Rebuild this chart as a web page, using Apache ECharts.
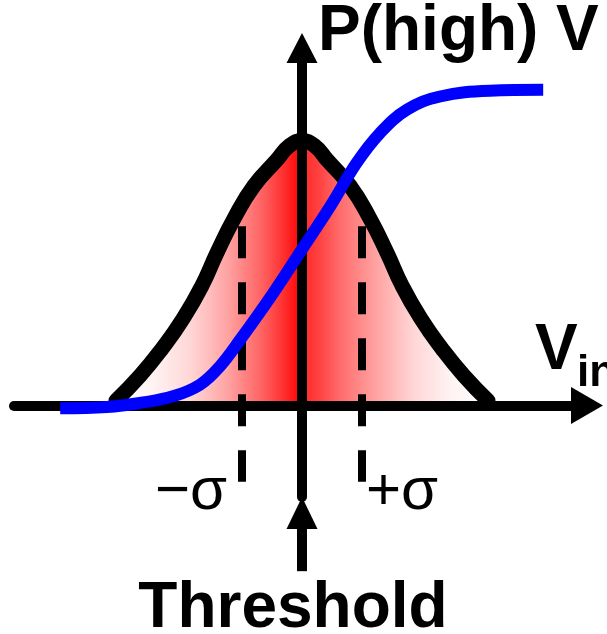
<!DOCTYPE html>
<html>
<head>
<meta charset="utf-8">
<script src="https://cdn.jsdelivr.net/npm/echarts@6/dist/echarts.min.js"></script>
<style>
  html, body { margin: 0; padding: 0; background: #fff; }
  #chart { width: 607px; height: 634px; }
</style>
</head>
<body>
<div id="chart"></div>
<script>
// 高斯分布曲线 (x 以 σ 为单位, y 相对峰值)
const gaussX = [-3.1, -2.7, -2.333, -1.983, -1.667, -1.417, -1.133, -0.8, -0.417, -0.21, 0, 0.21, 0.417, 0.8, 1.133, 1.417, 1.667, 1.983, 2.333, 2.7, 3.1]
const gaussY = [0.019, 0.113, 0.215, 0.328, 0.453, 0.577, 0.706, 0.83, 0.928, 0.981, 1.0, 0.981, 0.928, 0.83, 0.706, 0.577, 0.453, 0.328, 0.215, 0.113, 0.019]

// P(high) 曲线
const sigX = [-4.03, -3.25, -2.7, -2.15, -1.7, -1.37, -1.03, -0.48, 0, 0.47, 0.91, 1.3, 1.75, 2.3, 3.13, 4.02]
const sigY = [-0.01, -0.005, 0.01, 0.035, 0.079, 0.148, 0.249, 0.425, 0.59, 0.752, 0.916, 1.029, 1.117, 1.167, 1.189, 1.192]

// ±σ 虚线
const sigmaX = [-1, 1]
const sigmaTop = 0.677
const sigmaBottom = -0.287

// Threshold 箭头 (x = 0)
const arrowFrom = -0.625
const arrowTip = -0.405

// 文字
const yLabel = 'P(high)'
const yLabel2 = 'V'
const xLabel = 'V'
const xLabelSub = 'in'
const minusSigma = '\u2212\u03c3'
const plusSigma = '+\u03c3'
const thresholdLabel = 'Threshold'

const FONT = '"Liberation Sans", Arial, Helvetica, sans-serif'

// 以基线位置放置文字
function textAt(text, x, baseline, size, weight, align) {
  return {
    type: 'text',
    z: 10,
    silent: true,
    style: {
      text: text,
      x: x,
      y: baseline - size * 0.33,
      font: weight + ' ' + size + 'px ' + FONT,
      fill: '#000',
      textAlign: align,
      textVerticalAlign: 'middle'
    }
  }
}

// 红色渐变：中间最红，两侧渐白
const redFill = new echarts.graphic.LinearGradient(0, 0, 1, 0, [
  { offset: 0, color: '#ffffff' },
  { offset: 0.1, color: '#fff3f3' },
  { offset: 0.2, color: '#ffd6d6' },
  { offset: 0.3, color: '#ffa3a3' },
  { offset: 0.4, color: '#ff5c5c' },
  { offset: 0.45, color: '#ff3030' },
  { offset: 0.5, color: '#ff0000' },
  { offset: 0.501, color: '#ff2828' },
  { offset: 0.55, color: '#ff4444' },
  { offset: 0.6, color: '#ff6a6a' },
  { offset: 0.7, color: '#ffa3a3' },
  { offset: 0.8, color: '#ffd6d6' },
  { offset: 0.9, color: '#fff3f3' },
  { offset: 1, color: '#ffffff' }
])

const chart = echarts.init(document.getElementById('chart'))

const option = {
  animation: false,
  backgroundColor: '#fff',
  grid: { left: 14, right: 20, top: 48, bottom: 137, outerBoundsMode: 'none', containLabel: false },
  xAxis: {
    type: 'value',
    min: -4.8,
    max: 4.75,
    z: 3,
    axisLine: {
      onZero: true,
      symbol: ['none', 'triangle'],
      symbolSize: [37, 32],
      lineStyle: { color: '#000', width: 10 }
    },
    axisTick: { show: false },
    axisLabel: { show: false },
    splitLine: { show: false }
  },
  yAxis: {
    type: 'value',
    min: -0.345,
    max: 1.35,
    z: 3,
    axisLine: {
      onZero: true,
      symbol: ['none', 'triangle'],
      symbolSize: [31, 30],
      lineStyle: { color: '#000', width: 10 }
    },
    axisTick: { show: false },
    axisLabel: { show: false },
    splitLine: { show: false }
  },
  series: [
    {
      name: 'gauss',
      type: 'line',
      data: gaussX.map((x, i) => [x, gaussY[i]]),
      smooth: 0.5,
      symbol: 'none',
      silent: true,
      z: 2,
      lineStyle: { color: '#000', width: 15, join: 'round', cap: 'round' },
      areaStyle: { opacity: 1, color: redFill }
    },
    ...sigmaX.map(x => ({
      type: 'line',
      data: [[x, sigmaTop], [x, sigmaBottom]],
      symbol: 'none',
      silent: true,
      z: 4,
      lineStyle: { color: '#000', width: 8, type: [32, 24], cap: 'butt' }
    })),
    {
      name: 'threshold',
      type: 'line',
      data: [
        { value: [0, arrowFrom], symbol: 'none' },
        { value: [0, arrowTip], symbol: 'triangle', symbolSize: [31, 32] }
      ],
      clip: false,
      silent: true,
      z: 4,
      lineStyle: { color: '#000', width: 10, cap: 'butt' },
      itemStyle: { color: '#000' }
    },
    {
      name: 'P(high)',
      type: 'line',
      data: sigX.map((x, i) => [x, sigY[i]]),
      smooth: 0.4,
      symbol: 'none',
      silent: true,
      z: 5,
      lineStyle: { color: '#0000ff', width: 12, cap: 'butt' }
    }
  ],
  graphic: [
    textAt(yLabel, 318, 53, 64, 'bold', 'left'),
    textAt(yLabel2, 556, 53, 64, 'bold', 'left'),
    textAt(xLabel, 535, 372, 64, 'bold', 'left'),
    textAt(xLabelSub, 577, 388, 44, 'bold', 'left'),
    textAt(minusSigma, 191, 512, 60, 'normal', 'center'),
    textAt(plusSigma, 402, 512, 60, 'normal', 'center'),
    textAt(thresholdLabel, 293, 630, 64, 'bold', 'center')
  ]
}

chart.setOption(option)
</script>
</body>
</html>
